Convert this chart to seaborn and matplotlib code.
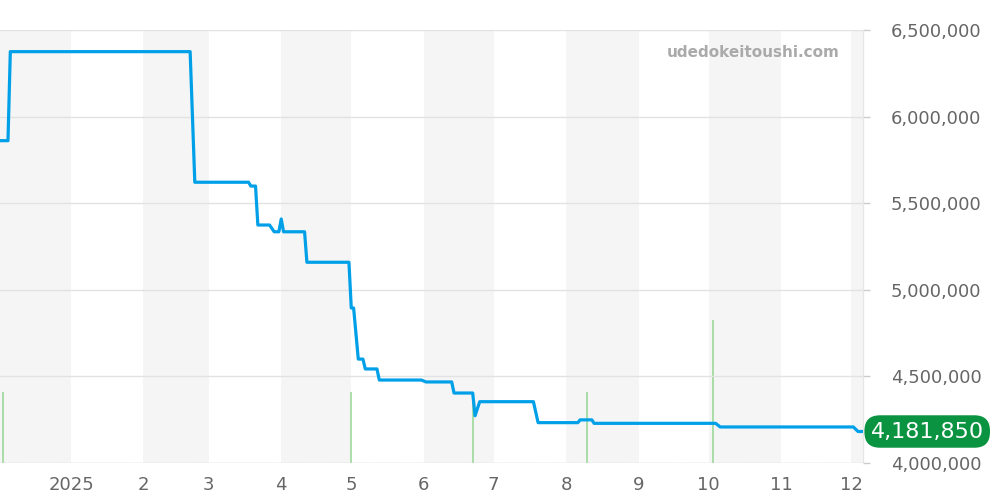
import pandas as pd
import seaborn as sns
import matplotlib.pyplot as plt
from matplotlib.ticker import FuncFormatter

# price history (step changes)
price_dates = ['2024-12-01', '2024-12-05', '2024-12-06', '2025-02-21', '2025-02-23',
               '2025-03-18', '2025-03-19', '2025-03-21', '2025-03-22', '2025-03-27',
               '2025-03-29', '2025-03-31', '2025-04-01', '2025-04-02', '2025-04-11',
               '2025-04-12', '2025-04-30', '2025-05-01', '2025-05-02', '2025-05-04',
               '2025-05-06', '2025-05-07', '2025-05-12', '2025-05-13', '2025-05-31',
               '2025-06-02', '2025-06-13', '2025-06-14', '2025-06-22', '2025-06-23',
               '2025-06-25', '2025-07-18', '2025-07-20', '2025-08-06', '2025-08-07',
               '2025-08-12', '2025-08-13', '2025-10-04', '2025-10-06', '2025-12-02',
               '2025-12-04', '2025-12-06']
prices = [5861000, 5861000, 6375000, 6375000, 5621000,
          5621000, 5599000, 5599000, 5374000, 5374000,
          5335000, 5335000, 5409000, 5335000, 5335000,
          5159000, 5159000, 4895000, 4895000, 4600000,
          4600000, 4543000, 4543000, 4479000, 4479000,
          4468000, 4468000, 4404000, 4404000, 4273000,
          4354000, 4354000, 4233000, 4233000, 4249000,
          4249000, 4229000, 4229000, 4208000, 4208000,
          4181850, 4181850]

# trade volume
volume_dates = ['2024-12-03', '2025-05-01', '2025-06-22', '2025-08-10', '2025-10-03']
volumes = [1, 1, 1, 1, 2]

month_ticks = pd.date_range('2025-01-01', '2025-12-01', freq='MS')
month_labels = ['2025', '2', '3', '4', '5', '6', '7', '8', '9', '10', '11', '12']
band_months = pd.date_range('2024-12-01', '2025-12-01', freq='MS')

last_price = prices[-1]

df = pd.DataFrame({'date': pd.to_datetime(price_dates), 'price': prices})
vol = pd.DataFrame({'date': pd.to_datetime(volume_dates), 'volume': volumes})

sns.set_style('white')
plt.rcParams['font.family'] = ['DejaVu Sans']

fig, ax = plt.subplots(figsize=(10, 5), dpi=100)
fig.subplots_adjust(left=0, right=0.863, bottom=0.074, top=0.94)

# alternating month bands
for i, start in enumerate(band_months):
    if i % 2 == 0:
        end = start + pd.offsets.MonthBegin(1)
        ax.axvspan(start, end, color='#f5f5f5', lw=0, zorder=0)

# volume on the lower axis
ax.vlines(vol['date'], 0, vol['volume'], color='#93d893', lw=1.1, zorder=2)
ax.axhline(0, color='#b6e2b6', lw=1, ls=':', zorder=2)
ax.set_ylim(0, 6.07)
ax.set_yticks([])

# price on the twin axis
ax2 = ax.twinx()
sns.lineplot(data=df, x='date', y='price', ax=ax2, color='#00a0e9', linewidth=2.3, zorder=5)
ax2.set_ylim(4000000, 6500000)
ax2.set_yticks([4000000, 4500000, 5000000, 5500000, 6000000, 6500000])
ax2.yaxis.set_major_formatter(FuncFormatter(lambda v, p: f'{v:,.0f}'))
ax2.grid(axis='y', color='#e2e2e2', lw=1)
ax2.set_axisbelow(True)
ax2.tick_params(axis='y', length=5, width=1, color='#cccccc', pad=15,
                labelsize=13, labelcolor='#666666')
ax2.set_xlabel('')
ax2.set_ylabel('')

ax.set_xlim(pd.Timestamp('2024-12-01 14:00'), pd.Timestamp('2025-12-06 03:00'))
ax.set_xticks(month_ticks)
ax.set_xticklabels(month_labels)
ax.tick_params(axis='x', length=3, width=1, color='#cccccc', pad=6,
               labelsize=13, labelcolor='#666666')
ax.set_xlabel('')

for a in (ax, ax2):
    for s in ['top', 'left', 'bottom']:
        a.spines[s].set_visible(False)
    a.spines['right'].set_color('#e6e6e6')

# current price label
ax2.annotate(f'{last_price:,}', xy=(1.0, last_price), xycoords=ax2.get_yaxis_transform(),
             xytext=(5.5, 0), textcoords='offset points',
             ha='left', va='center', fontsize=16, color='white', zorder=10,
             bbox=dict(boxstyle='round,pad=0.28,rounding_size=0.7', fc='#0a9340', ec='none'),
             annotation_clip=False)

ax2.text(0.973, 0.949, 'udedokeitoushi.com', transform=ax2.transAxes,
         ha='right', va='center', fontsize=11, fontweight='bold', color='#aaaaaa')

fig.savefig('out.png', dpi=100)
